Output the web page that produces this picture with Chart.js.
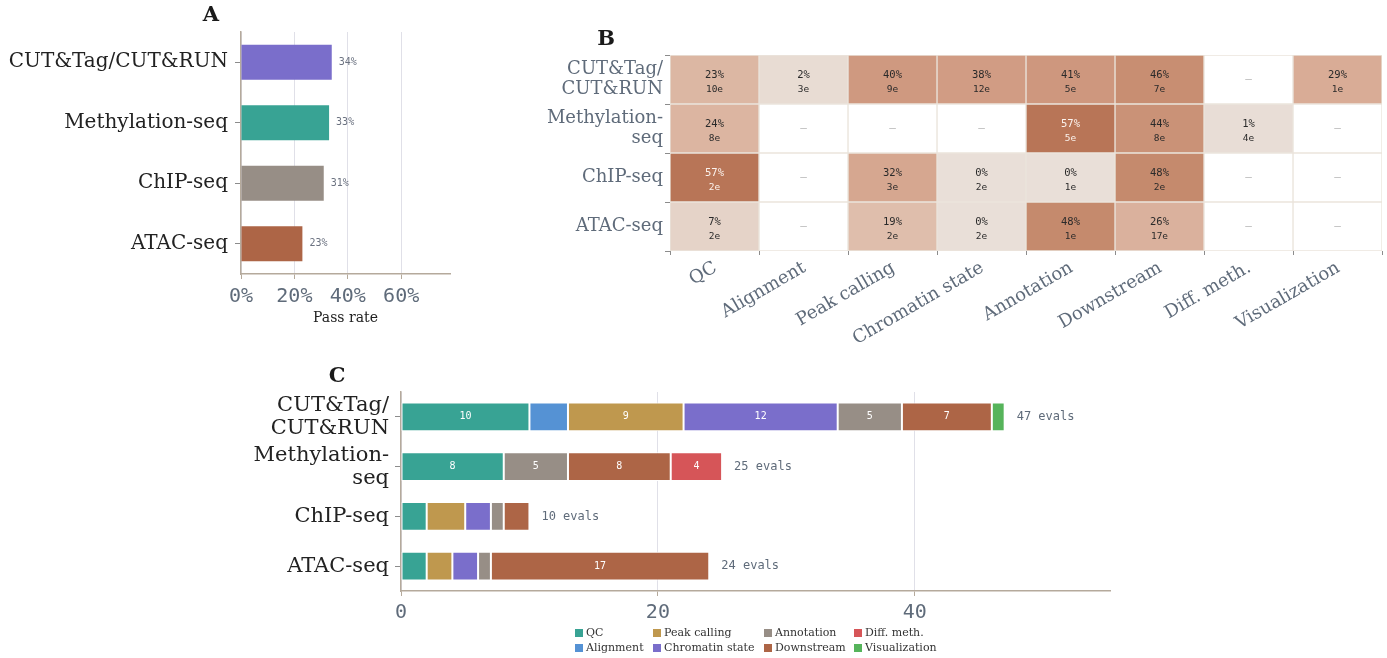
<!DOCTYPE html>
<html>
<head>
<meta charset="utf-8">
<script src="https://cdn.jsdelivr.net/npm/chart.js@4.4.1/dist/chart.umd.min.js"></script>
<style>
  html, body { margin: 0; padding: 0; background: #fff; }
  body { width: 1387px; height: 658px; position: relative; overflow: hidden; }
  canvas { position: absolute; }
  #chartA { left: 0; top: 0; }
  #chartB { left: 480px; top: 25px; }
  #chartC { left: 230px; top: 360px; }
</style>
</head>
<body>
<canvas id="chartA" width="470" height="340"></canvas>
<canvas id="chartB" width="907" height="325"></canvas>
<canvas id="chartC" width="900" height="298"></canvas>
<script>
// ---- data ----
const assays = ['CUT&Tag/CUT&RUN', 'Methylation-seq', 'ChIP-seq', 'ATAC-seq'];
const assayLabelsWrapped = [['CUT&Tag/', 'CUT&RUN'], ['Methylation-', 'seq'], 'ChIP-seq', 'ATAC-seq'];
const steps = ['QC', 'Alignment', 'Peak calling', 'Chromatin state', 'Annotation', 'Downstream', 'Diff. meth.', 'Visualization'];

// A: overall pass rate per assay (%)
const overallPassRate = [34, 33, 31, 23];

// B: pass rate per step, one array per assay (null = not evaluated)
const passCutTag = [23, 2, 40, 38, 41, 46, null, 29];
const passMethyl = [24, null, null, null, 57, 44, 1, null];
const passChip = [57, null, 32, 0, 0, 48, null, null];
const passAtac = [7, null, 19, 0, 48, 26, null, null];

// C: number of evals per step, in assay order
const evalsQC = [10, 8, 2, 2];
const evalsAlignment = [3, 0, 0, 0];
const evalsPeak = [9, 0, 3, 2];
const evalsChromatin = [12, 0, 2, 2];
const evalsAnnotation = [5, 5, 1, 1];
const evalsDownstream = [7, 8, 2, 17];
const evalsDiffMeth = [0, 4, 0, 0];
const evalsVisualization = [1, 0, 0, 0];

// ---- style ----
const SERIF = '"DejaVu Serif", serif';
const MONO = '"DejaVu Sans Mono", monospace';
const INK = '#222222';
const SLATE = '#5f6b7a';
const AXIS = '#b5aa9c';
const GRID = '#e0e0e8';
const TICK = '#8c8c8c';

const STEP_COLORS = ['#38a394', '#5592d4', '#bf984e', '#7a6ecb', '#978e86', '#ad6546', '#d65558', '#56b45b'];
const ASSAY_COLORS = [STEP_COLORS[3], STEP_COLORS[0], STEP_COLORS[4], STEP_COLORS[5]];

const passRates = [passCutTag, passMethyl, passChip, passAtac];
const evalsByStep = [evalsQC, evalsAlignment, evalsPeak, evalsChromatin, evalsAnnotation, evalsDownstream, evalsDiffMeth, evalsVisualization];

const HEAT_STOPS = [
    [0, [233, 223, 216]],
    [20, [222, 188, 170]],
    [30, [216, 170, 148]],
    [40, [207, 153, 128]],
    [48, [197, 138, 109]],
    [57, [184, 117, 87]]
];

function heatColor(rate) {
    if (rate === null)
        return '#ffffff';
    for (let i = 1; i < HEAT_STOPS.length; i++) {
        const [v0, c0] = HEAT_STOPS[i - 1];
        const [v1, c1] = HEAT_STOPS[i];
        if (rate <= v1 || i === HEAT_STOPS.length - 1) {
            const t = Math.min(1, (rate - v0) / (v1 - v0));
            return 'rgb(' + c0.map((c, k) => Math.round(c + (c1[k] - c) * t)).join(',') + ')';
        }
    }
}

Chart.defaults.font.family = SERIF;

// ---- plugins ----
const panelLetter = (letter, x, y) => ({
    id: 'letter' + letter,
    afterDraw(chart) {
        const { ctx } = chart;
        ctx.save();
        ctx.font = 'bold 21px ' + SERIF;
        ctx.fillStyle = '#1a1a1a';
        ctx.textAlign = 'center';
        ctx.textBaseline = 'middle';
        ctx.fillText(letter, x, y);
        ctx.restore();
    }
});

const barValueLabels = {
    id: 'barValueLabels',
    afterDatasetsDraw(chart) {
        const { ctx } = chart;
        ctx.save();
        ctx.font = '10px ' + MONO;
        ctx.fillStyle = '#6b7280';
        ctx.textAlign = 'left';
        ctx.textBaseline = 'middle';
        chart.getDatasetMeta(0).data.forEach((bar, i) => {
            ctx.fillText(overallPassRate[i] + '%', bar.x + 7, bar.y);
        });
        ctx.restore();
    }
};

const heatText = {
    id: 'heatText',
    afterDatasetsDraw(chart) {
        const { ctx } = chart;
        ctx.save();
        ctx.textAlign = 'center';
        ctx.textBaseline = 'middle';
        chart.data.datasets.forEach((ds, c) => {
            chart.getDatasetMeta(c).data.forEach((cell, r) => {
                const cx = (cell.x + cell.base) / 2;
                const cy = cell.y;
                const rate = passRates[r][c];
                if (rate === null) {
                    ctx.font = '11px ' + MONO;
                    ctx.fillStyle = '#b4b4b4';
                    ctx.fillText('–', cx, cy);
                    return;
                }
                ctx.fillStyle = rate >= 55 ? '#fbf3ee' : '#2a2a2a';
                ctx.font = '10.5px ' + MONO;
                ctx.fillText(rate + '%', cx, cy - 4.5);
                ctx.font = '9.5px ' + MONO;
                ctx.fillText(evalsByStep[c][r] + 'e', cx, cy + 10.5);
            });
        });
        ctx.restore();
    }
};

const stackLabels = {
    id: 'stackLabels',
    afterDatasetsDraw(chart) {
        const { ctx } = chart;
        ctx.save();
        ctx.textBaseline = 'middle';
        ctx.font = '10px ' + MONO;
        ctx.fillStyle = '#ffffff';
        ctx.textAlign = 'center';
        chart.data.datasets.forEach((ds, s) => {
            chart.getDatasetMeta(s).data.forEach((bar, r) => {
                const v = ds.data[r];
                if (v >= 4)
                    ctx.fillText(String(v), (bar.x + bar.base) / 2, bar.y);
            });
        });
        ctx.font = '12px ' + MONO;
        ctx.fillStyle = SLATE;
        ctx.textAlign = 'left';
        assays.forEach((a, r) => {
            const total = evalsByStep.reduce((sum, arr) => sum + arr[r], 0);
            const x = chart.scales.x.getPixelForValue(total) + 12;
            const y = chart.scales.y.getPixelForValue(r);
            ctx.fillText(total + ' evals', x, y);
        });
        ctx.restore();
    }
};

// legend laid out in 4 columns x 2 rows, column-major like the source figure
const LEGEND_COLS = [345, 423, 534, 624];
const LEGEND_ROWS = [273, 288];
const stepLegend = {
    id: 'stepLegend',
    afterDraw(chart) {
        const { ctx } = chart;
        ctx.save();
        ctx.font = '11px ' + SERIF;
        ctx.textBaseline = 'middle';
        ctx.textAlign = 'left';
        steps.forEach((step, s) => {
            const x = LEGEND_COLS[Math.floor(s / 2)];
            const y = LEGEND_ROWS[s % 2];
            ctx.fillStyle = STEP_COLORS[s];
            ctx.fillRect(x, y - 4, 8, 8);
            ctx.fillStyle = '#333333';
            ctx.fillText(step, x + 11, y);
        });
        ctx.restore();
    }
};

const noChrome = {
    legend: { display: false },
    tooltip: { enabled: false }
};

// ---- A: pass rate by assay ----
new Chart(document.getElementById('chartA'), {
    type: 'bar',
    data: {
        labels: assays,
        datasets: [{
            data: overallPassRate,
            backgroundColor: ASSAY_COLORS,
            barPercentage: 0.58,
            categoryPercentage: 1
        }]
    },
    options: {
        indexAxis: 'y',
        responsive: false,
        animation: false,
        layout: { padding: { top: 32, right: 20, left: 0, bottom: 0 } },
        plugins: noChrome,
        scales: {
            x: {
                min: 0,
                max: 78.3,
                border: { color: AXIS, width: 1.5 },
                grid: { color: GRID, tickColor: AXIS, tickLength: 5 },
                ticks: {
                    stepSize: 20,
                    includeBounds: false,
                    padding: 6,
                    color: SLATE,
                    font: { family: MONO, size: 20 },
                    callback: v => v + '%'
                },
                title: {
                    display: true,
                    text: 'Pass rate',
                    color: INK,
                    font: { family: SERIF, size: 14 },
                    padding: { top: 0, bottom: 13 }
                },
                afterFit: s => { s.height = 66; }
            },
            y: {
                border: { color: AXIS, width: 1.5 },
                grid: { drawOnChartArea: false, offset: false, tickColor: TICK, tickLength: 6 },
                ticks: { padding: 7, color: INK, font: { family: SERIF, size: 20 } },
                afterFit: s => { s.width = 241; }
            }
        }
    },
    plugins: [panelLetter('A', 211, 16), barValueLabels]
});

// ---- B: pass rate heatmap (assay x step) ----
new Chart(document.getElementById('chartB'), {
    type: 'bar',
    data: {
        labels: assayLabelsWrapped,
        datasets: steps.map((step, c) => ({
            label: step,
            data: assays.map(() => 1),
            backgroundColor: assays.map((a, r) => heatColor(passRates[r][c])),
            borderColor: '#ebe4dc',
            borderWidth: 1,
            borderSkipped: false
        }))
    },
    options: {
        indexAxis: 'y',
        responsive: false,
        animation: false,
        layout: { padding: { top: 30, right: 5, left: 0, bottom: 0 } },
        plugins: noChrome,
        datasets: { bar: { barPercentage: 1, categoryPercentage: 1 } },
        scales: {
            x: {
                type: 'linear',
                stacked: true,
                min: 0,
                max: steps.length,
                border: { display: false },
                grid: { drawOnChartArea: false, offset: true, tickColor: TICK, tickLength: 4 },
                afterBuildTicks: s => { s.ticks = steps.map((st, i) => ({ value: i + 0.5 })); },
                ticks: {
                    autoSkip: false,
                    minRotation: 30,
                    maxRotation: 30,
                    padding: 3,
                    labelOffset: 1,
                    color: SLATE,
                    font: { family: SERIF, size: 18, lineHeight: 1.1 },
                    callback: (v, i) => steps[i]
                },
                afterFit: s => { s.height = 99; }
            },
            y: {
                stacked: true,
                border: { display: false },
                grid: { drawOnChartArea: false, offset: true, tickColor: TICK, tickLength: 5 },
                ticks: { padding: 2, color: SLATE, font: { family: SERIF, size: 18, lineHeight: 1.1 } },
                afterFit: s => { s.width = 190; }
            }
        }
    },
    plugins: [panelLetter('B', 126, 15), heatText]
});

// ---- C: evals per step, stacked ----
new Chart(document.getElementById('chartC'), {
    type: 'bar',
    data: {
        labels: assayLabelsWrapped,
        datasets: steps.map((step, s) => ({
            label: step,
            data: evalsByStep[s].map(v => v || null),
            backgroundColor: STEP_COLORS[s],
            borderColor: '#ffffff',
            borderWidth: 1,
            borderSkipped: false
        }))
    },
    options: {
        indexAxis: 'y',
        responsive: false,
        animation: false,
        layout: { padding: { top: 32, right: 20, left: 0, bottom: 0 } },
        plugins: noChrome,
        datasets: { bar: { barPercentage: 0.58, categoryPercentage: 1 } },
        scales: {
            x: {
                stacked: true,
                min: 0,
                max: 55.2,
                border: { color: AXIS, width: 1.5 },
                grid: { color: GRID, tickColor: AXIS, tickLength: 5 },
                ticks: {
                    stepSize: 20,
                    includeBounds: false,
                    padding: 5,
                    color: SLATE,
                    font: { family: MONO, size: 20 }
                },
                afterFit: s => { s.height = 67; }
            },
            y: {
                stacked: true,
                border: { color: AXIS, width: 1.5 },
                grid: { drawOnChartArea: false, offset: false, tickColor: TICK, tickLength: 6 },
                ticks: { padding: 6, color: INK, font: { family: SERIF, size: 21, lineHeight: 1.1 } },
                afterFit: s => { s.width = 171; }
            }
        }
    },
    plugins: [panelLetter('C', 107, 17), stackLabels, stepLegend]
});
</script>
</body>
</html>
